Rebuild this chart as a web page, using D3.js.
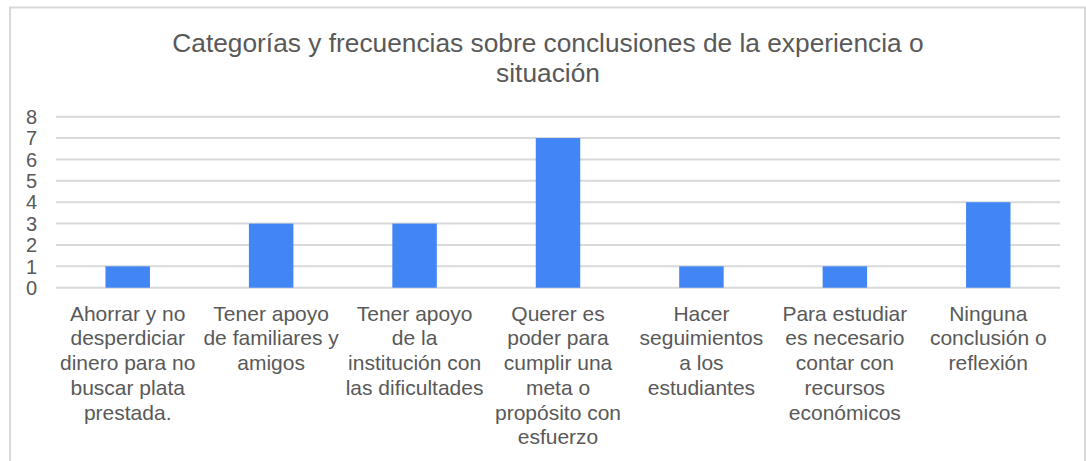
<!DOCTYPE html>
<html>
<head>
<meta charset="utf-8">
<script src="https://cdn.jsdelivr.net/npm/d3@7"></script>
<style>
  body { margin: 0; background: #fff; }
  text { font-family: "Liberation Sans", Arial, sans-serif; fill: #595959; }
</style>
</head>
<body>
<div id="chart"></div>
<script>
// data
const titleLines = ["Categorías y frecuencias sobre conclusiones de la experiencia o", "situación"];
const categories = [
  "Ahorrar y no\ndesperdiciar\ndinero para no\nbuscar plata\nprestada.",
  "Tener apoyo\nde familiares y\namigos",
  "Tener apoyo\nde la\ninstitución con\nlas dificultades",
  "Querer es\npoder para\ncumplir una\nmeta o\npropósito con\nesfuerzo",
  "Hacer\nseguimientos\na los\nestudiantes",
  "Para estudiar\nes necesario\ncontar con\nrecursos\neconómicos",
  "Ninguna\nconclusión o\nreflexión"
];
const values = [1, 3, 3, 7, 1, 1, 4];
const yTicks = [0, 1, 2, 3, 4, 5, 6, 7, 8];

const width = 1086, height = 461;
const plot = { left: 56, right: 1060, top: 116.7, bottom: 287.7 };

const svg = d3.select("#chart").append("svg")
    .attr("width", width)
    .attr("height", height);

// chart frame
svg.append("rect")
    .attr("x", 10).attr("y", 7.5)
    .attr("width", 1075).attr("height", 480)
    .style("fill", "#fff")
    .style("stroke", "#d9d9d9")
    .style("stroke-width", 2);

// title
svg.append("g").selectAll("text")
    .data(titleLines)
    .enter().append("text")
    .attr("x", 548)
    .attr("y", (d, i) => 52 + i * 30)
    .attr("text-anchor", "middle")
    .style("font-size", "26.3px")
    .text(d => d);

const x = d3.scaleBand()
    .domain(categories)
    .range([plot.left, plot.right])
    .paddingInner(0.69)
    .paddingOuter(0.345);

const y = d3.scaleLinear()
    .domain([0, 8])
    .range([plot.bottom, plot.top]);

// gridlines
svg.append("g").selectAll("line")
    .data(yTicks)
    .enter().append("line")
    .attr("x1", plot.left).attr("x2", plot.right)
    .attr("y1", d => y(d)).attr("y2", d => y(d))
    .style("stroke", "#d9d9d9")
    .style("stroke-width", 2);

// y tick labels
svg.append("g").selectAll("text")
    .data(yTicks)
    .enter().append("text")
    .attr("x", 37)
    .attr("y", d => y(d))
    .attr("dy", "0.36em")
    .attr("text-anchor", "end")
    .style("font-size", "20px")
    .text(d => d);

// bars
svg.append("g").selectAll("rect")
    .data(values)
    .enter().append("rect")
    .attr("x", (d, i) => x(categories[i]))
    .attr("width", x.bandwidth())
    .attr("y", d => y(d))
    .attr("height", d => y(0) - y(d))
    .style("fill", "#4285f4");

// category labels, line breaks as in the original
const labels = svg.append("g").selectAll("text")
    .data(categories)
    .enter().append("text")
    .attr("x", d => x(d) + x.bandwidth() / 2)
    .attr("y", 320.7)
    .attr("text-anchor", "middle")
    .style("font-size", "21px");

labels.selectAll("tspan")
    .data(d => d.split("\n"))
    .enter().append("tspan")
    .attr("x", function() { return this.parentNode.getAttribute("x"); })
    .attr("dy", (d, i) => i === 0 ? 0 : 24.7)
    .text(d => d);
</script>
</body>
</html>
